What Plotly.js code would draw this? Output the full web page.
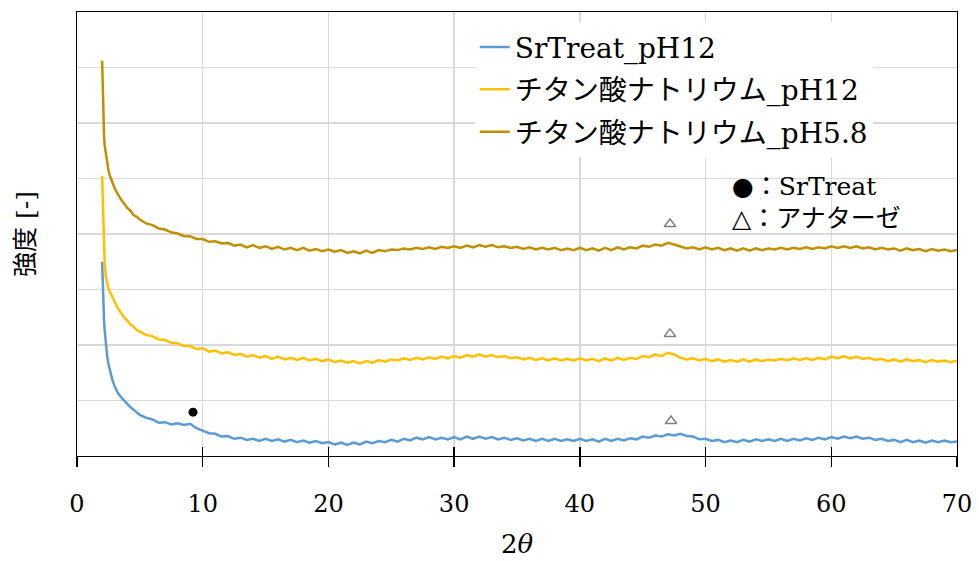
<!DOCTYPE html>
<html>
<head>
<meta charset="utf-8">
<script src="https://cdn.plot.ly/plotly-3.0.1.min.js"></script>
<style>html,body{margin:0;padding:0;background:#fff;}#chart{width:979px;height:561px;}</style>
</head>
<body>
<div id="chart"></div>
<script>
// 2θ positions (degrees)
const twoTheta = [
  2.0, 2.05, 2.1, 2.15, 2.2, 2.3, 2.4, 2.5, 2.6, 2.8, 3.0, 3.25, 3.5, 3.75, 4.0, 4.25, 4.5, 4.75,
  5.0, 5.5, 6.0, 6.5, 7.0, 7.5, 8.0, 8.5, 9.0, 9.5,
  10.0, 10.5, 11.0, 11.5, 12.0, 12.5, 13.0, 13.5, 14.0, 14.5,
  15.0, 15.5, 16.0, 16.5, 17.0, 17.5, 18.0, 18.5, 19.0, 19.5,
  20.0, 20.5, 21.0, 21.5, 22.0, 22.5, 23.0, 23.5, 24.0, 24.5,
  25.0, 25.5, 26.0, 26.5, 27.0, 27.5, 28.0, 28.5, 29.0, 29.5,
  30.0, 30.5, 31.0, 31.5, 32.0, 32.5, 33.0, 33.5, 34.0, 34.5,
  35.0, 35.5, 36.0, 36.5, 37.0, 37.5, 38.0, 38.5, 39.0, 39.5,
  40.0, 40.5, 41.0, 41.5, 42.0, 42.5, 43.0, 43.5, 44.0, 44.5,
  45.0, 45.5, 46.0, 46.5, 47.0, 47.5, 48.0, 48.5, 49.0, 49.5,
  50.0, 50.5, 51.0, 51.5, 52.0, 52.5, 53.0, 53.5, 54.0, 54.5,
  55.0, 55.5, 56.0, 56.5, 57.0, 57.5, 58.0, 58.5, 59.0, 59.5,
  60.0, 60.5, 61.0, 61.5, 62.0, 62.5, 63.0, 63.5, 64.0, 64.5,
  65.0, 65.5, 66.0, 66.5, 67.0, 67.5, 68.0, 68.5, 69.0, 69.5,
  70.0
];

// SrTreat_pH12 (blue)
const srTreatPH12 = [
  3.50, 2.95, 2.69, 2.45, 2.27, 1.97, 1.80, 1.66, 1.55, 1.38, 1.25, 1.14, 1.06, 0.99, 0.94, 0.88, 0.83, 0.78,
  0.74, 0.69, 0.66, 0.60, 0.61, 0.57, 0.59, 0.56, 0.58, 0.50,
  0.46, 0.41, 0.40, 0.35, 0.36, 0.31, 0.33, 0.29, 0.31, 0.27,
  0.31, 0.27, 0.30, 0.26, 0.29, 0.25, 0.28, 0.24, 0.27, 0.23,
  0.25, 0.21, 0.24, 0.20, 0.24, 0.21, 0.26, 0.23, 0.27, 0.25,
  0.29, 0.26, 0.31, 0.28, 0.33, 0.30, 0.34, 0.30, 0.33, 0.30,
  0.34, 0.30, 0.35, 0.31, 0.35, 0.31, 0.34, 0.30, 0.33, 0.29,
  0.32, 0.28, 0.31, 0.27, 0.31, 0.27, 0.31, 0.27, 0.30, 0.27,
  0.31, 0.27, 0.30, 0.26, 0.31, 0.27, 0.31, 0.28, 0.32, 0.30,
  0.35, 0.33, 0.37, 0.35, 0.39, 0.37, 0.40, 0.36, 0.35, 0.30,
  0.31, 0.27, 0.29, 0.25, 0.28, 0.25, 0.29, 0.26, 0.30, 0.27,
  0.30, 0.27, 0.31, 0.27, 0.31, 0.28, 0.32, 0.29, 0.33, 0.30,
  0.34, 0.31, 0.35, 0.32, 0.35, 0.31, 0.33, 0.29, 0.31, 0.27,
  0.29, 0.25, 0.29, 0.25, 0.28, 0.24, 0.28, 0.25, 0.28, 0.25,
  0.26
];

// チタン酸ナトリウム_pH12 (yellow)
const naTitanatePH12 = [
  5.05, 4.55, 4.02, 3.70, 3.48, 3.22, 3.08, 3.02, 2.97, 2.86, 2.78, 2.66, 2.57, 2.50, 2.44, 2.37, 2.33, 2.27,
  2.24, 2.18, 2.16, 2.10, 2.09, 2.04, 2.03, 1.98, 1.98, 1.93,
  1.94, 1.88, 1.90, 1.85, 1.87, 1.82, 1.84, 1.79, 1.82, 1.77,
  1.80, 1.75, 1.79, 1.74, 1.77, 1.73, 1.77, 1.72, 1.75, 1.71,
  1.74, 1.69, 1.72, 1.68, 1.71, 1.67, 1.71, 1.68, 1.73, 1.70,
  1.74, 1.72, 1.76, 1.73, 1.77, 1.74, 1.78, 1.75, 1.79, 1.76,
  1.80, 1.77, 1.82, 1.79, 1.83, 1.79, 1.82, 1.78, 1.80, 1.76,
  1.78, 1.74, 1.77, 1.73, 1.76, 1.72, 1.76, 1.72, 1.75, 1.72,
  1.76, 1.72, 1.75, 1.71, 1.76, 1.72, 1.77, 1.73, 1.77, 1.75,
  1.80, 1.78, 1.83, 1.80, 1.86, 1.83, 1.77, 1.74, 1.76, 1.72,
  1.75, 1.71, 1.74, 1.70, 1.73, 1.70, 1.74, 1.70, 1.74, 1.71,
  1.74, 1.72, 1.75, 1.72, 1.76, 1.73, 1.76, 1.73, 1.77, 1.74,
  1.79, 1.76, 1.80, 1.76, 1.79, 1.75, 1.77, 1.73, 1.75, 1.71,
  1.74, 1.70, 1.74, 1.71, 1.73, 1.69, 1.73, 1.70, 1.72, 1.69,
  1.72
];

// チタン酸ナトリウム_pH5.8 (dark gold)
const naTitanatePH58 = [
  7.12, 6.45, 6.02, 5.78, 5.60, 5.42, 5.28, 5.15, 5.06, 4.93, 4.82, 4.72, 4.62, 4.55, 4.47, 4.42, 4.34, 4.31,
  4.26, 4.19, 4.16, 4.10, 4.08, 4.03, 4.01, 3.96, 3.96, 3.91,
  3.91, 3.86, 3.87, 3.83, 3.84, 3.79, 3.81, 3.76, 3.80, 3.75,
  3.78, 3.73, 3.77, 3.72, 3.75, 3.71, 3.75, 3.70, 3.73, 3.69,
  3.72, 3.68, 3.71, 3.66, 3.69, 3.65, 3.70, 3.66, 3.71, 3.69,
  3.72, 3.71, 3.74, 3.72, 3.75, 3.73, 3.76, 3.73, 3.77, 3.75,
  3.78, 3.75, 3.79, 3.76, 3.80, 3.77, 3.80, 3.76, 3.78, 3.75,
  3.77, 3.73, 3.76, 3.72, 3.75, 3.72, 3.75, 3.71, 3.74, 3.71,
  3.75, 3.71, 3.74, 3.70, 3.75, 3.71, 3.76, 3.72, 3.76, 3.74,
  3.79, 3.77, 3.81, 3.79, 3.84, 3.81, 3.78, 3.74, 3.76, 3.72,
  3.76, 3.72, 3.75, 3.71, 3.74, 3.70, 3.74, 3.70, 3.74, 3.71,
  3.74, 3.72, 3.75, 3.72, 3.75, 3.73, 3.76, 3.73, 3.76, 3.74,
  3.78, 3.75, 3.78, 3.75, 3.78, 3.74, 3.76, 3.72, 3.75, 3.72,
  3.74, 3.70, 3.74, 3.71, 3.73, 3.69, 3.73, 3.70, 3.72, 3.69,
  3.71
];

const seriesNames = ['SrTreat_pH12', 'チタン酸ナトリウム_pH12', 'チタン酸ナトリウム_pH5.8'];
const seriesColors = ['#5B9BD5', '#FFC000', '#BF9000'];

// peak markers
const srPeakX = [9.23];
const srPeakY = [0.79];
const anatasePeakX = [47.17, 47.17, 47.25];
const anatasePeakY = [4.18, 2.20, 0.63];

const keyTexts = ['●：SrTreat', '△：アナターゼ'];
const xTickVals = [0, 10, 20, 30, 40, 50, 60, 70];

const serif = 'DejaVu Serif, Liberation Serif, Noto Sans CJK JP, serif';

const seriesY = [srTreatPH12, naTitanatePH12, naTitanatePH58];
const traces = seriesY.map((ys, i) => ({
  type: 'scatter', mode: 'lines', x: twoTheta, y: ys, name: seriesNames[i],
  legendgroup: 'g' + i,
  line: {color: seriesColors[i], width: 2.5}
}));
traces.push({
  type: 'scatter', mode: 'markers', x: srPeakX, y: srPeakY, xaxis: 'x2', showlegend: false,
  marker: {symbol: 'circle', size: 9, color: '#000'}
});
traces.push({
  type: 'scatter', mode: 'markers', x: anatasePeakX, y: anatasePeakY, xaxis: 'x2', showlegend: false,
  marker: {symbol: 'triangle-up-open', size: 10, color: '#808080', line: {width: 1.5, color: '#808080'}}
});

const layout = {
  width: 979, height: 561,
  margin: {l: 77, r: 22, t: 12, b: 105},
  paper_bgcolor: '#fff', plot_bgcolor: '#fff',
  font: {family: serif, color: '#000', size: 24},
  showlegend: true,
  legend: {
    x: 0.452, y: 0.977, xanchor: 'left', yanchor: 'top',
    bgcolor: '#fff', borderwidth: 0,
    font: {family: serif, size: 28, color: '#000'},
    traceorder: 'grouped', tracegroupgap: 3
  },
  xaxis: {
    range: [0, 70], tickvals: xTickVals, ticktext: xTickVals.map(String),
    ticks: 'outside', ticklen: 10, tickwidth: 1.3, tickcolor: '#000',
    showline: true, linecolor: '#000', linewidth: 1.3, mirror: true,
    showgrid: true, gridcolor: '#d9d9d9', gridwidth: 1.3,
    zeroline: false,
    ticklabelstandoff: 16,
    tickfont: {family: serif, size: 24, color: '#000'},
    title: {text: '2<i>θ</i>', font: {family: serif, size: 26, color: '#000'}, standoff: 17},
    automargin: false
  },
  xaxis2: {
    range: [0, 70], matches: 'x', overlaying: 'x', anchor: 'y', side: 'bottom',
    tickvals: xTickVals, showticklabels: false,
    ticks: 'inside', ticklen: 9, tickwidth: 1.3, tickcolor: '#000',
    showgrid: false, showline: false, zeroline: false
  },
  yaxis: {
    range: [0, 8], dtick: 1, tick0: 0, showticklabels: false, ticks: '',
    showline: true, linecolor: '#000', linewidth: 1.3, mirror: true,
    showgrid: true, gridcolor: '#d9d9d9', gridwidth: 1.3,
    zeroline: false,
    title: {text: '強度 [-]', font: {family: serif, size: 25, color: '#000'}, standoff: 34},
    automargin: false
  },
  annotations: [
    {xref: 'paper', yref: 'paper', x: 0.742, y: 0.606, xanchor: 'left', yanchor: 'middle',
     text: keyTexts[0], showarrow: false, font: {family: serif, size: 25, color: '#000'}},
    {xref: 'paper', yref: 'paper', x: 0.742, y: 0.536, xanchor: 'left', yanchor: 'middle',
     text: keyTexts[1], showarrow: false, font: {family: serif, size: 25, color: '#000'}}
  ]
};

Plotly.newPlot('chart', traces, layout, {staticPlot: true, displayModeBar: false});
</script>
</body>
</html>
